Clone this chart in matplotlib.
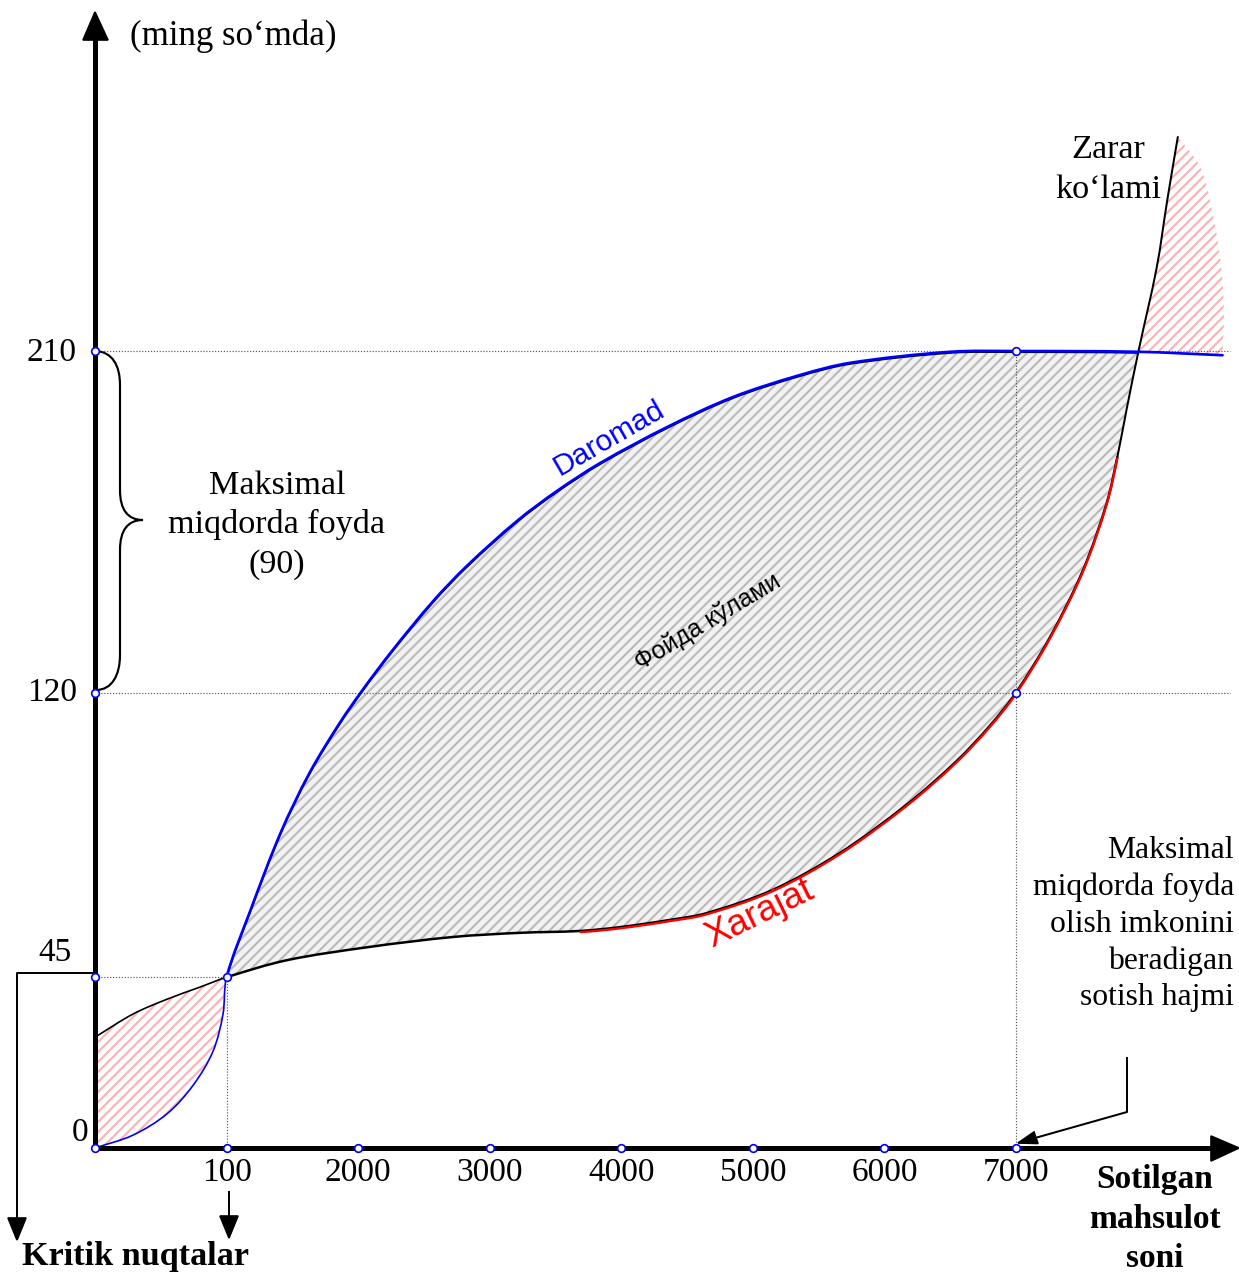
import matplotlib
matplotlib.use("Agg")
import matplotlib.pyplot as plt
import matplotlib.transforms as mtransforms
from matplotlib.path import Path
from matplotlib.patches import PathPatch, Polygon
import numpy as np

# ---- data -------------------------------------------------------------
x_tick_pos = [1, 2, 3, 4, 5, 6, 7]
x_tick_labels = ["100", "2000", "3000", "4000", "5000", "6000", "7000"]
y_tick_vals = [0, 45, 120, 210]
y_tick_labels = ["0", "45", "120", "210"]

# Daromad (revenue) curve
revenue_x = [0, 0.289, 0.547, 0.745, 0.897, 0.973, 1.0, 1.18, 1.41, 1.63, 1.86,
             2.04, 2.26, 2.57, 2.83, 3.21, 3.51, 3.84, 4.35, 4.85, 5.36, 5.74,
             6.50, 7.0, 7.93, 8.57]
revenue_y = [0, 3.4, 9.0, 16.5, 25.5, 35.3, 45, 62.5, 83.0, 98.8, 112.0,
             121.0, 131.1, 144.1, 153.5, 165.3, 173.1, 180.5, 190.0, 197.9, 203.7, 206.9,
             209.8, 210, 209.8, 208.9]

# Xarajat (cost) curve
cost_x = [0, 0.289, 0.547, 0.798, 1.0, 1.46, 2.09, 2.72, 3.23, 3.69, 3.99, 4.37,
          4.65, 5.15, 5.66, 6.17, 6.55, 6.80, 7.0, 7.26, 7.51, 7.69, 7.77, 7.84,
          7.93, 8.07, 8.15, 8.23]
cost_y = [29.2, 35.3, 39.2, 42.4, 45, 49.5, 53.0, 55.6, 56.7, 57.2, 58.2, 60.1,
          61.9, 68.0, 77.7, 90.5, 102.0, 111.2, 120, 134.7, 152.3, 170.0, 182.0, 194.5,
          209.8, 232.1, 249.8, 266.4]

# outer edge of the loss area beyond the second critical point
loss_edge_x = [8.23, 8.40, 8.50, 8.56, 8.58, 8.57]
loss_edge_y = [266.4, 258.5, 245.3, 232.1, 220.0, 208.9]

critical_x = [0, 1]
critical_y = [0, 45]
break_x = 7.93
optimum_x = 7
max_profit_top = 210
max_profit_bottom = 120
cost_red_from, cost_red_to = 3.69, 7.77

# ---- figure geometry ----------------------------------------------------
W, H, DPI = 1239, 1277, 120
XLIM = (-0.722, 8.695)
YLIM = (-33.99, 302.5)
SX = W / (XLIM[1] - XLIM[0])   # pixels per x unit
SY = H / (YLIM[1] - YLIM[0])   # pixels per y unit


# ---- helpers ----------------------------------------------------------
def bezier_segments(xs, ys):
    """Cubic Bezier pieces through every point (chord-length Catmull-Rom)."""
    p = np.column_stack([xs, ys]).astype(float)
    q = p * [SX, SY]
    d = np.hypot(*np.diff(q, axis=0).T)
    n = len(p)
    m = np.zeros_like(p)
    m[0] = (p[1] - p[0]) / d[0]
    m[-1] = (p[-1] - p[-2]) / d[-1]
    for i in range(1, n - 1):
        m[i] = (p[i + 1] - p[i - 1]) / (d[i - 1] + d[i])
    segs = []
    for i in range(n - 1):
        segs.append((p[i], p[i] + m[i] * d[i] / 3, p[i + 1] - m[i + 1] * d[i] / 3, p[i + 1]))
    return segs


def seg_range(segs, xs, x_from, x_to):
    i = int(np.argmin(np.abs(np.asarray(xs) - x_from)))
    j = int(np.argmin(np.abs(np.asarray(xs) - x_to)))
    return segs[i:j]


def reverse(segs):
    return [(d, c, b, a) for (a, b, c, d) in segs[::-1]]


def path_from(seg_lists, close=False):
    verts, codes = [], []
    first = True
    for segs in seg_lists:
        for (a, b, c, d) in segs:
            if first:
                verts.append(a); codes.append(Path.MOVETO); first = False
            verts += [b, c, d]; codes += [Path.CURVE4] * 3
    if close:
        verts.append(verts[0]); codes.append(Path.CLOSEPOLY)
    return Path(np.array(verts), codes)


# ---- figure -----------------------------------------------------------
plt.rcParams["hatch.linewidth"] = 1.3
fig = plt.figure(figsize=(W / DPI, H / DPI), dpi=DPI)
ax = fig.add_axes([0, 0, 1, 1])
ax.set_axis_off()
ax.set_xlim(*XLIM)
ax.set_ylim(*YLIM)

# pixel transform (origin top-left)
pix = mtransforms.Affine2D().scale(1 / W, -1 / H).translate(0, 1) + fig.transFigure
down1 = mtransforms.offset_copy(ax.transData, fig=fig, x=0, y=-1.2, units="dots")

serif = ["Liberation Serif", "DejaVu Serif"]
sans = ["Liberation Sans", "DejaVu Sans"]

rev = bezier_segments(revenue_x, revenue_y)
cst = bezier_segments(cost_x, cost_y)
edge = bezier_segments(loss_edge_x, loss_edge_y)

# profit area between the critical points
profit = path_from([seg_range(rev, revenue_x, 1, break_x),
                    reverse(seg_range(cst, cost_x, 1, break_x))], close=True)
ax.add_patch(PathPatch(profit, facecolor="#f2f2f2", edgecolor="#bababa",
                       hatch="////", lw=0, zorder=1))

# loss area at the start
loss0 = path_from([seg_range(cst, cost_x, 0, 1),
                   reverse(seg_range(rev, revenue_x, 0, 1))], close=True)
ax.add_patch(PathPatch(loss0, facecolor="white", edgecolor="#f7b5b5",
                       hatch="////", lw=0, zorder=1))

# loss area at the end
loss1 = path_from([seg_range(cst, cost_x, break_x, cost_x[-1]), edge,
                   reverse(seg_range(rev, revenue_x, break_x, revenue_x[-1]))], close=True)
ax.add_patch(PathPatch(loss1, facecolor="white", edgecolor="#f7b5b5",
                       hatch="////", lw=0, zorder=1))

# dotted guide lines
dot = dict(color="#555555", linestyle=(0, (1, 1.5)), linewidth=0.7, zorder=2)
ax.plot([0, 8.63], [max_profit_top] * 2, **dot)
ax.plot([0, 8.63], [max_profit_bottom] * 2, **dot)
ax.plot([0, critical_x[1]], [critical_y[1]] * 2, **dot)
ax.plot([critical_x[1]] * 2, [0, critical_y[1]], **dot)
ax.plot([optimum_x] * 2, [0, max_profit_top], **dot)


def curve(segs, color, lw, z, transform=None):
    ax.add_patch(PathPatch(path_from([segs]), facecolor="none", edgecolor=color, lw=lw,
                           zorder=z, transform=transform if transform else ax.transData,
                           capstyle="round"))


# revenue line
curve(seg_range(rev, revenue_x, 1, break_x), "black", 1.0, 3, down1)
curve(seg_range(rev, revenue_x, 0, 1), "#0000ff", 1.0, 4)
curve(seg_range(rev, revenue_x, 1, revenue_x[-1]), "#0000ff", 1.6, 4)

# cost line
curve(seg_range(cst, cost_x, 0, 1), "black", 1.0, 3)
curve(seg_range(cst, cost_x, 1, cost_red_to), "black", 1.5, 3)
curve(seg_range(cst, cost_x, cost_red_to, cost_x[-1]), "black", 1.2, 3)
curve(seg_range(cst, cost_x, cost_red_from, cost_red_to), "#ff0000", 1.4, 4, down1)

# axes with arrows
ax.plot([95, 95], [1150, 30], color="black", lw=3, transform=pix, zorder=5, solid_capstyle="butt")
ax.plot([93, 1215], [1148, 1148], color="black", lw=3, transform=pix, zorder=5, solid_capstyle="butt")
ax.add_patch(Polygon([[95, 12], [83, 40], [108, 40]], closed=True, color="black", transform=pix, zorder=5))
ax.add_patch(Polygon([[1239, 1148], [1211, 1136], [1211, 1161]], closed=True, color="black", transform=pix, zorder=5))

# markers
mk = dict(marker="o", markersize=4.6, markerfacecolor="white", markeredgecolor="#0000ff",
          markeredgewidth=1.0, linestyle="none", zorder=6)
ax.plot([0] + x_tick_pos, [0] * (len(x_tick_pos) + 1), **mk)
ax.plot([0, 0, 0], y_tick_vals[1:], **mk)
ax.plot([critical_x[1], optimum_x, optimum_x], [critical_y[1], max_profit_bottom, max_profit_top], **mk)

# tick labels
for p, lab in zip(x_tick_pos, x_tick_labels):
    ax.text(p, -6.5, lab, ha="center", va="center", fontsize=20, family=serif, zorder=7)
ytext_px = {"0": (80, 1133), "45": (55, 953), "120": (52, 693), "210": (52, 353)}
for lab in y_tick_labels:
    x0, y0 = ytext_px[lab]
    ax.text(x0, y0, lab, ha="center", va="center", fontsize=20, family=serif, transform=pix)

# texts
ax.text(130, 36, "(ming so‘mda)", ha="left", va="center", fontsize=21, family=serif, transform=pix)
ax.text(277, 525, "Maksimal\nmiqdorda foyda\n(90)", ha="center", va="center", fontsize=20.5,
        family=serif, linespacing=1.36, transform=pix)
ax.text(1108, 170, "Zarar\nko‘lami", ha="center", va="center", fontsize=20.5,
        family=serif, linespacing=1.4, transform=pix)
ax.text(1234, 924, "Maksimal\nmiqdorda foyda\nolish imkonini\nberadigan\nsotish hajmi",
        ha="right", va="center", fontsize=19, family=serif, linespacing=1.345,
        multialignment="right", transform=pix)
ax.text(1155, 1219, "Sotilgan\nmahsulot\nsoni", ha="center", va="center", fontsize=20,
        family=serif, fontweight="bold", linespacing=1.36, transform=pix)
ax.text(22, 1256, "Kritik nuqtalar", ha="left", va="center", fontsize=20.5,
        family=serif, fontweight="bold", transform=pix)

ax.text(609, 438, "Daromad", ha="center", va="center", fontsize=18, color="#0000ff",
        family=sans, rotation=30, rotation_mode="anchor", transform=pix, zorder=7)
ax.text(760, 914, "Xarajat", ha="center", va="center", fontsize=22, color="#ff0000",
        family=sans, rotation=26, rotation_mode="anchor", transform=pix, zorder=7)
ax.text(708, 622, "Фойда кўлами", ha="center", va="center", fontsize=15, color="black",
        family=sans, rotation=31, rotation_mode="anchor", transform=pix, zorder=7)

# curly brace for the maximum profit span
verts = [(96, 351), (112, 352), (120, 365), (120, 385),
         (120, 490),
         (120, 510), (128, 520), (143, 520),
         (128, 520), (120, 530), (120, 550),
         (120, 655),
         (120, 675), (112, 690), (96, 690)]
codes = [Path.MOVETO, Path.CURVE4, Path.CURVE4, Path.CURVE4,
         Path.LINETO,
         Path.CURVE4, Path.CURVE4, Path.CURVE4,
         Path.CURVE4, Path.CURVE4, Path.CURVE4,
         Path.LINETO,
         Path.CURVE4, Path.CURVE4, Path.CURVE4]
ax.add_patch(PathPatch(Path(verts, codes), facecolor="none", edgecolor="black",
                       lw=1.3, transform=pix, zorder=5))

# pointers to the critical points
ax.plot([95, 17, 17], [973, 973, 1220], color="black", lw=1.2, transform=pix, zorder=5)
ax.add_patch(Polygon([[17, 1240], [8, 1218], [26, 1218]], closed=True, color="black", transform=pix, zorder=5))
ax.plot([229, 229], [1192, 1220], color="black", lw=1.2, transform=pix, zorder=5)
ax.add_patch(Polygon([[229, 1238], [220, 1216], [238, 1216]], closed=True, color="black", transform=pix, zorder=5))

# pointer to the optimal sales volume
ax.plot([1127, 1127, 1035], [1058, 1112, 1138], color="black", lw=1.2, transform=pix, zorder=5)
ax.add_patch(Polygon([[1018, 1143], [1034, 1132], [1038, 1143.5]], closed=True, color="black",
                     transform=pix, zorder=5))

fig.savefig("out.png", dpi=DPI)
